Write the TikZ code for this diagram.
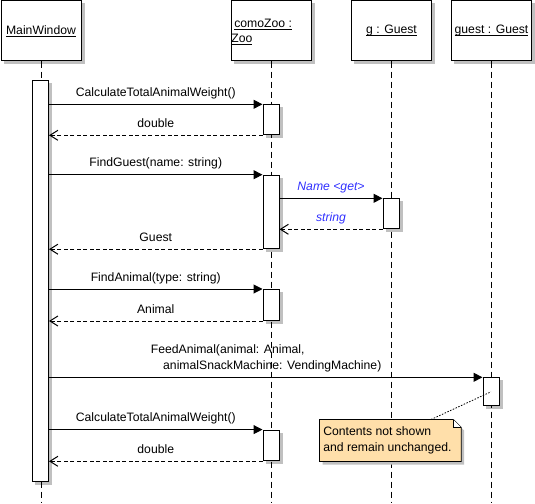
\documentclass[tikz,border=0pt]{standalone}
\usepackage{fontspec}
\setmainfont{Liberation Sans}
\usetikzlibrary{arrows.meta,calc,backgrounds}
\definecolor{shadowgray}{RGB}{192,192,192}
\definecolor{notefill}{RGB}{255,223,170}
\definecolor{msgblue}{RGB}{48,48,255}
\newcommand\myul[1]{\setbox0\hbox{#1}\rlap{\rule[-2.2pt]{\wd0}{0.9pt}}\box0}
\newcommand\shadowof[1]{\fill[shadowgray] ([xshift=3pt,yshift=-3pt]#1.south west) rectangle ([xshift=3pt,yshift=-3pt]#1.north east);}
\begin{document}
\begin{tikzpicture}[x=1pt,y=-1pt, line width=1pt,
  every node/.style={font=\fontsize{12.2}{15}\selectfont, inner sep=0pt},
  hdr/.style={draw, fill=white, minimum width=80pt, minimum height=60pt, anchor=north west},
  act/.style={draw, fill=white, minimum width=16pt, anchor=north},
  life/.style={dash pattern=on 6pt off 4pt},
  msg/.style={-{Triangle[length=9pt,width=9pt]}},
  ret/.style={dash pattern=on 4pt off 2.5pt, -{Straight Barb[length=8pt,width=10pt]}},
  txt/.style={text height=9pt, text depth=2.6pt},
  lbl/.style={txt, midway, yshift=11pt},
  blbl/.style={lbl, text=msgblue, font=\fontsize{12.2}{15}\selectfont\itshape}]
\useasboundingbox (0,0) rectangle (535,503);
\coordinate (bot) at (0,503);
% headers
\node[hdr] (mwH) at (0.5,0.5) {\myul{MainWindow}};
\node[hdr] (zooH) at (231,0.5) {};
\node[anchor=west] (zooT1) at (233.8,24.6) {\myul{comoZoo :}};
\node[anchor=west] (zooT2) at (230.8,39.6) {\myul{Zoo}};
\node[hdr] (gH) at (351,0.5) {\myul{g : Guest}};
\node[hdr] (guestH) at (451,0.5) {\myul{guest : Guest}};
% lifelines
\draw[life] (mwH.south) -- (mwH.south |- bot);
\draw[life] (zooH.south) -- (zooH.south |- bot);
\draw[life] (gH.south) -- (gH.south |- bot);
\draw[life] (guestH.south) -- (guestH.south |- bot);
% activations
\node[act, minimum height=401pt] (mwA) at (40.5,80) {};
\node[act, minimum height=30pt] (z1) at (271,104.3) {};
\node[act, minimum height=73.5pt] (z2) at (271,174.7) {};
\node[act, minimum height=30pt] (gA) at (391,198.3) {};
\node[act, minimum height=31pt] (z3) at (271,289) {};
\node[act, minimum height=28pt] (guA) at (491,377.3) {};
\node[act, minimum height=30.7pt] (z4) at (271,429.6) {};
\begin{scope}[on background layer]
\shadowof{mwH}\shadowof{zooH}\shadowof{gH}\shadowof{guestH}
\shadowof{mwA}\shadowof{z1}\shadowof{z2}\shadowof{gA}\shadowof{z3}\shadowof{guA}\shadowof{z4}
\end{scope}
% messages
\draw[msg] (mwA.east |- z1.north) -- (z1.north west) node[lbl] (l1) {CalculateTotalAnimalWeight()};
\draw[ret] (z1.south west) -- (mwA.east |- z1.south) node[lbl] (l2) {double};
\draw[msg] (mwA.east |- z2.north) -- (z2.north west) node[lbl] (l3) {FindGuest(name: string)};
\draw[msg] (z2.east |- gA.north) -- (gA.north west) node[blbl] (l4) {Name <get>};
\draw[ret] (gA.south west) -- (z2.east |- gA.south) node[blbl] (l5) {string};
\draw[ret] (z2.south west) -- (mwA.east |- z2.south) node[lbl] (l6) {Guest};
\draw[msg] (mwA.east |- z3.north) -- (z3.north west) node[lbl] (l7) {FindAnimal(type: string)};
\draw[ret] (z3.south west) -- (mwA.east |- z3.south) node[lbl] (l8) {Animal};
\draw[msg] (mwA.east |- guA.north) -- (guA.north west);
\node[txt, anchor=west] (fa1) at (150.4,350) {FeedAnimal(animal: Animal,};
\node[txt, anchor=west] (fa2) at (162.7,366.7) {animalSnackMachine: VendingMachine)};
\draw[msg] (mwA.east |- z4.north) -- (z4.north west) node[lbl] (l9) {CalculateTotalAnimalWeight()};
\draw[ret] (z4.south west) -- (mwA.east |- z4.south) node[lbl] (l10) {double};
% note
\node[minimum width=140.7pt, minimum height=41pt] (note) at (390.35,440.5) {};
\fill[shadowgray] ([xshift=3pt,yshift=-3pt]note.north west) -- ([xshift=-5pt,yshift=-3pt]note.north east) -- ([xshift=3pt,yshift=-11pt]note.north east) -- ([xshift=3pt,yshift=-3pt]note.south east) -- ([xshift=3pt,yshift=-3pt]note.south west) -- cycle;
\draw[fill=notefill, line width=0.8pt] (note.north west) -- ([xshift=-8pt]note.north east) -- ([yshift=-8pt]note.north east) -- (note.south east) -- (note.south west) -- cycle;
\draw[fill=white, line width=0.8pt] ([xshift=-8pt]note.north east) -- ([xshift=-8pt,yshift=-8pt]note.north east) -- ([yshift=-8pt]note.north east);
\node[anchor=west, align=left, font=\fontsize{12.2}{16.3}\selectfont] (notetxt) at ([xshift=3.3pt]note.west) {Contents not shown\\and remain unchanged.};
\draw[dash pattern=on 1.5pt off 1.5pt, line width=0.8pt] ($(note.north west)!0.787!(note.north east)$) -- (guA.center);
\end{tikzpicture}
\end{document}
